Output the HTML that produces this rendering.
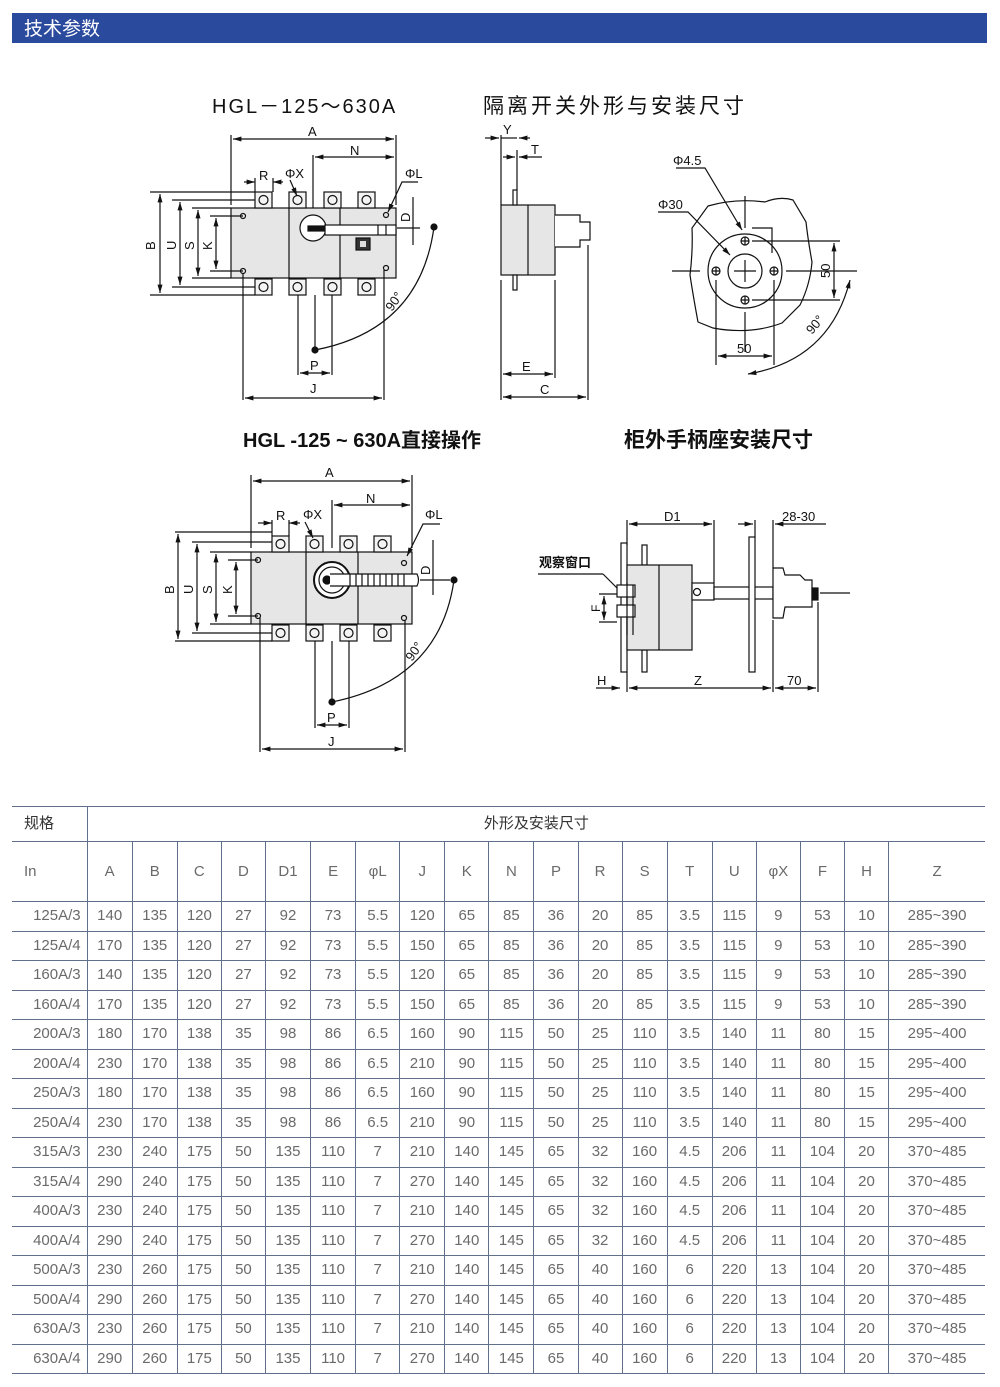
<!DOCTYPE html>
<html><head><meta charset="utf-8"><style>
body{margin:0;background:#fff;width:1000px;height:1387px;position:relative;overflow:hidden;font-family:"Liberation Sans","Noto Sans CJK SC",sans-serif}
.bar{position:absolute;left:12px;top:13px;width:975px;height:30px;background:#2a4a9e;color:#fff;font-size:19px;line-height:30px;box-sizing:border-box;padding-left:12px;font-family:"Noto Sans CJK SC",sans-serif}
table{position:absolute;left:12px;top:806px;border-collapse:collapse;table-layout:fixed;width:973px;color:#6a6a6a;font-size:15px}
td{border:1.5px solid #5f6f8c;text-align:center;padding:0;height:28.5px;line-height:28px}
td:first-child{border-left:none;text-align:right;padding-right:6px}
tr td:last-child{border-right:none}
tr.h1 td{height:34px}
tr.h2 td{height:59px}
tr.h1 td:first-child,tr.h2 td:first-child{text-align:left;padding-left:12px;padding-right:0}
svg{position:absolute;left:0;top:0}
svg text{font-family:"Liberation Sans","Noto Sans CJK SC",sans-serif;fill:#111}
</style></head><body>
<div class="bar">技术参数</div>
<svg width="1000" height="800" viewBox="0 0 1000 800" stroke="#111" fill="none" stroke-width="1.2">
<defs>
<marker id="ar" viewBox="0 0 10 10" refX="10" refY="5" markerWidth="7" markerHeight="7" orient="auto-start-reverse"><path d="M0,2 L10,5 L0,8z" fill="#111" stroke="none"/></marker>
<g id="term">
<rect x="0" y="0" width="17" height="16" fill="#f4f4f4"/><circle cx="8.5" cy="8" r="4.5"/>
</g>
</defs>
<text x="212" y="113" font-size="20" font-family="Liberation Serif" stroke="none" letter-spacing="2">HGL－125～630A</text>
<text x="483" y="113" font-size="21" stroke="none" font-family="Noto Serif CJK SC" letter-spacing="3">隔离开关外形与安装尺寸</text>
<text x="243" y="447" font-size="20" stroke="none" font-weight="bold">HGL -125 ~ 630A直接操作</text>
<text x="624" y="447" font-size="21" stroke="none" font-weight="bold">柜外手柄座安装尺寸</text>

<rect x="231" y="208" width="165" height="70" fill="#e6e6e6"/>
<line x1="289" y1="208" x2="289" y2="278"/><line x1="340" y1="208" x2="340" y2="278"/>
<use href="#term" x="255" y="192"/><use href="#term" x="289" y="192"/><use href="#term" x="324" y="192"/><use href="#term" x="358" y="192"/>
<use href="#term" x="255" y="279"/><use href="#term" x="289" y="279"/><use href="#term" x="324" y="279"/><use href="#term" x="358" y="279"/>
<circle cx="243" cy="216" r="2.5"/><circle cx="243" cy="271" r="2.5"/><circle cx="386" cy="215" r="2.5"/><circle cx="386" cy="268" r="2.5"/>
<circle cx="313" cy="228" r="13" fill="#fff"/><rect x="308" y="226" width="20" height="5" fill="#111"/>
<rect x="325" y="225" width="71" height="10" fill="#fff"/><line x1="378" y1="225" x2="378" y2="235"/><line x1="386" y1="225" x2="386" y2="235"/>
<rect x="356" y="238" width="14" height="12" fill="#333"/><rect x="360" y="241" width="6" height="6" fill="#ddd" stroke="none"/>
<line x1="231" y1="135" x2="231" y2="205"/><line x1="396" y1="135" x2="396" y2="205"/>
<line x1="233" y1="139" x2="394" y2="139" marker-start="url(#ar)" marker-end="url(#ar)"/>
<text x="308" y="136" font-size="13" stroke="none">A</text>
<line x1="313" y1="155" x2="313" y2="208"/>
<line x1="315" y1="157" x2="394" y2="157" marker-start="url(#ar)" marker-end="url(#ar)"/>
<text x="350" y="155" font-size="13" stroke="none">N</text>
<line x1="244" y1="182" x2="255" y2="182" marker-end="url(#ar)"/><line x1="283" y1="182" x2="273" y2="182" marker-end="url(#ar)"/>
<line x1="255" y1="178" x2="255" y2="192"/><line x1="273" y1="178" x2="273" y2="192"/>
<text x="259" y="180" font-size="13" stroke="none">R</text><text x="285" y="178" font-size="13" stroke="none">ΦX</text>
<line x1="290" y1="180" x2="297" y2="196" marker-end="url(#ar)"/>
<text x="405" y="178" font-size="13" stroke="none">ΦL</text><path d="M418,182 L402,182 L388,212" marker-end="url(#ar)"/>
<line x1="397" y1="228" x2="420" y2="228"/><line x1="413" y1="197" x2="413" y2="245"/>
<text x="410" y="222" font-size="13" stroke="none" transform="rotate(-90 410 222)">D</text>
<circle cx="434" cy="227" r="3" fill="#111"/><circle cx="315" cy="350" r="3" fill="#111"/>
<path d="M434,227 Q420,330 315,350"/>
<text x="392" y="312" font-size="13" stroke="none" transform="rotate(-55 392 312)">90°</text>
<line x1="315" y1="295" x2="315" y2="350"/>
<line x1="298" y1="295" x2="298" y2="375"/><line x1="332" y1="295" x2="332" y2="375"/>
<line x1="300" y1="373" x2="330" y2="373" marker-start="url(#ar)" marker-end="url(#ar)"/>
<text x="310" y="370" font-size="13" stroke="none">P</text>
<line x1="243" y1="273" x2="243" y2="400"/><line x1="384" y1="270" x2="384" y2="400"/>
<line x1="245" y1="398" x2="382" y2="398" marker-start="url(#ar)" marker-end="url(#ar)"/>
<text x="310" y="393" font-size="13" stroke="none">J</text>
<line x1="150" y1="192" x2="255" y2="192"/><line x1="150" y1="295" x2="255" y2="295"/>
<line x1="160" y1="194" x2="160" y2="293" marker-start="url(#ar)" marker-end="url(#ar)"/>
<line x1="172" y1="200" x2="255" y2="200"/><line x1="172" y1="287" x2="255" y2="287"/>
<line x1="180" y1="202" x2="180" y2="285" marker-start="url(#ar)" marker-end="url(#ar)"/>
<line x1="192" y1="208" x2="231" y2="208"/><line x1="192" y1="278" x2="231" y2="278"/>
<line x1="198" y1="210" x2="198" y2="276" marker-start="url(#ar)" marker-end="url(#ar)"/>
<line x1="210" y1="216" x2="243" y2="216"/><line x1="210" y1="271" x2="243" y2="271"/>
<line x1="216" y1="218" x2="216" y2="269" marker-start="url(#ar)" marker-end="url(#ar)"/>
<g font-size="13" stroke="none"><text x="155" y="250" transform="rotate(-90 155 250)">B</text><text x="176" y="250" transform="rotate(-90 176 250)">U</text><text x="194" y="250" transform="rotate(-90 194 250)">S</text><text x="212" y="250" transform="rotate(-90 212 250)">K</text></g>

<rect x="501" y="205" width="54" height="70" fill="#e6e6e6"/><line x1="528" y1="205" x2="528" y2="275"/>
<path d="M555,215 L580,215 L580,222 L590,222 L590,240 L580,240 L580,247 L555,247" fill="#fff"/>
<rect x="513" y="190" width="4" height="15" fill="#fff"/><rect x="513" y="275" width="4" height="15" fill="#fff"/>
<line x1="501" y1="135" x2="501" y2="205"/><line x1="517" y1="150" x2="517" y2="190"/>
<line x1="501" y1="138" x2="517" y2="138"/><line x1="485" y1="138" x2="499" y2="138" marker-end="url(#ar)"/><line x1="530" y1="138" x2="519" y2="138" marker-end="url(#ar)"/>
<text x="503" y="134" font-size="13" stroke="none">Y</text>
<line x1="503" y1="157" x2="515" y2="157" marker-end="url(#ar)"/><line x1="542" y1="157" x2="519" y2="157" marker-end="url(#ar)"/>
<text x="531" y="154" font-size="13" stroke="none">T</text>
<line x1="501" y1="280" x2="501" y2="400"/><line x1="555" y1="280" x2="555" y2="378"/><line x1="588" y1="245" x2="588" y2="400"/>
<line x1="503" y1="374" x2="553" y2="374" marker-start="url(#ar)" marker-end="url(#ar)"/>
<text x="522" y="371" font-size="13" stroke="none">E</text>
<line x1="503" y1="397" x2="586" y2="397" marker-start="url(#ar)" marker-end="url(#ar)"/>
<text x="540" y="394" font-size="13" stroke="none">C</text>

<path d="M708,206 Q735,198 765,202 Q780,196 793,200 L806,222 Q808,240 812,262 Q810,285 800,305 L782,323 Q750,335 713,328 L698,322 Q693,295 690,275 Q693,250 692,228 Z" fill="#fff"/>
<circle cx="745" cy="271" r="37"/><circle cx="745" cy="271" r="17"/>
<line x1="734" y1="271" x2="756" y2="271"/><line x1="745" y1="260" x2="745" y2="282"/>
<g><circle cx="745" cy="241" r="4"/><circle cx="745" cy="300" r="4"/><circle cx="716" cy="271" r="4"/><circle cx="774" cy="271" r="4"/>
<path d="M741,241h8M745,237v8M741,300h8M745,296v8M712,271h8M716,267v8M770,271h8M774,267v8"/></g>
<line x1="672" y1="271" x2="700" y2="271"/><line x1="786" y1="271" x2="857" y2="271"/>
<line x1="745" y1="196" x2="745" y2="228"/><line x1="745" y1="312" x2="745" y2="352"/>
<line x1="752" y1="241" x2="840" y2="241"/><line x1="752" y1="300" x2="840" y2="300"/>
<line x1="834" y1="243" x2="834" y2="298" marker-start="url(#ar)" marker-end="url(#ar)"/>
<text x="830" y="278" font-size="13" stroke="none" transform="rotate(-90 830 278)">50</text>
<path d="M752,228h20v25"/>
<line x1="716" y1="280" x2="716" y2="365"/><line x1="774" y1="280" x2="774" y2="365"/>
<line x1="718" y1="356" x2="772" y2="356" marker-start="url(#ar)" marker-end="url(#ar)"/>
<text x="737" y="353" font-size="13" stroke="none">50</text>
<path d="M850,280 Q830,360 748,374" marker-start="url(#ar)" marker-end="url(#ar)"/>
<text x="812" y="335" font-size="13" stroke="none" transform="rotate(-50 812 335)">90°</text>
<text x="673" y="165" font-size="13" stroke="none">Φ4.5</text><path d="M676,168 L705,168 L742,230" marker-end="url(#ar)"/>
<text x="658" y="209" font-size="13" stroke="none">Φ30</text><path d="M658,212 L688,212 L730,255" marker-end="url(#ar)"/>

<rect x="251" y="552" width="161" height="72" fill="#e6e6e6"/>
<line x1="306" y1="552" x2="306" y2="624"/><line x1="358" y1="552" x2="358" y2="624"/>
<use href="#term" x="272" y="536"/><use href="#term" x="306" y="536"/><use href="#term" x="340" y="536"/><use href="#term" x="374" y="536"/>
<use href="#term" x="272" y="625"/><use href="#term" x="306" y="625"/><use href="#term" x="340" y="625"/><use href="#term" x="374" y="625"/>
<circle cx="258" cy="560" r="2.5"/><circle cx="258" cy="616" r="2.5"/><circle cx="404" cy="563" r="2.5"/><circle cx="404" cy="618" r="2.5"/>
<circle cx="332" cy="580" r="18" fill="#fff" stroke-width="2"/><circle cx="332" cy="580" r="13" fill="#fff"/><circle cx="327" cy="580" r="4" fill="#111"/>
<path d="M330,574 L417,574 Q420,580 417,586 L330,586" fill="#fff"/>
<path d="M350,574v12M356,574v12M362,574v12M368,574v12M374,574v12M380,574v12M386,574v12M392,574v12M398,574v12M404,574v12"/>
<line x1="251" y1="475" x2="251" y2="548"/><line x1="412" y1="475" x2="412" y2="548"/>
<line x1="253" y1="481" x2="410" y2="481" marker-start="url(#ar)" marker-end="url(#ar)"/>
<text x="325" y="477" font-size="13" stroke="none">A</text>
<line x1="332" y1="500" x2="332" y2="548"/>
<line x1="334" y1="505" x2="410" y2="505" marker-start="url(#ar)" marker-end="url(#ar)"/>
<text x="366" y="503" font-size="13" stroke="none">N</text>
<line x1="258" y1="523" x2="272" y2="523" marker-end="url(#ar)"/><line x1="300" y1="523" x2="289" y2="523" marker-end="url(#ar)"/>
<line x1="272" y1="520" x2="272" y2="536"/><line x1="289" y1="520" x2="289" y2="536"/>
<text x="276" y="520" font-size="13" stroke="none">R</text><text x="303" y="519" font-size="13" stroke="none">ΦX</text>
<line x1="305" y1="522" x2="313" y2="538" marker-end="url(#ar)"/>
<text x="425" y="519" font-size="13" stroke="none">ΦL</text><path d="M440,524 L423,524 L407,556" marker-end="url(#ar)"/>
<line x1="420" y1="580" x2="450" y2="580"/><line x1="433" y1="540" x2="433" y2="595"/>
<text x="430" y="575" font-size="13" stroke="none" transform="rotate(-90 430 575)">D</text>
<circle cx="454" cy="580" r="3" fill="#111"/><circle cx="332" cy="702" r="3" fill="#111"/>
<path d="M454,580 Q440,680 332,702"/>
<text x="412" y="662" font-size="13" stroke="none" transform="rotate(-55 412 662)">90°</text>
<line x1="332" y1="641" x2="332" y2="702"/>
<line x1="315" y1="641" x2="315" y2="728"/><line x1="349" y1="641" x2="349" y2="728"/>
<line x1="317" y1="725" x2="347" y2="725" marker-start="url(#ar)" marker-end="url(#ar)"/>
<text x="327" y="722" font-size="13" stroke="none">P</text>
<line x1="260" y1="618" x2="260" y2="752"/><line x1="405" y1="620" x2="405" y2="752"/>
<line x1="262" y1="749" x2="403" y2="749" marker-start="url(#ar)" marker-end="url(#ar)"/>
<text x="328" y="746" font-size="13" stroke="none">J</text>
<line x1="175" y1="532" x2="272" y2="532"/><line x1="175" y1="641" x2="272" y2="641"/>
<line x1="178" y1="534" x2="178" y2="639" marker-start="url(#ar)" marker-end="url(#ar)"/>
<line x1="192" y1="542" x2="272" y2="542"/><line x1="192" y1="633" x2="272" y2="633"/>
<line x1="197" y1="544" x2="197" y2="631" marker-start="url(#ar)" marker-end="url(#ar)"/>
<line x1="210" y1="552" x2="251" y2="552"/><line x1="210" y1="624" x2="251" y2="624"/>
<line x1="216" y1="554" x2="216" y2="622" marker-start="url(#ar)" marker-end="url(#ar)"/>
<line x1="228" y1="560" x2="258" y2="560"/><line x1="228" y1="616" x2="258" y2="616"/>
<line x1="236" y1="562" x2="236" y2="614" marker-start="url(#ar)" marker-end="url(#ar)"/>
<g font-size="13" stroke="none"><text x="174" y="594" transform="rotate(-90 174 594)">B</text><text x="193" y="594" transform="rotate(-90 193 594)">U</text><text x="212" y="594" transform="rotate(-90 212 594)">S</text><text x="232" y="594" transform="rotate(-90 232 594)">K</text></g>

<rect x="621" y="543" width="6" height="129" fill="#fff"/>
<rect x="642" y="545" width="5" height="20" fill="#fff"/><rect x="642" y="650" width="5" height="22" fill="#fff"/>
<rect x="627" y="565" width="65" height="85" fill="#e6e6e6"/><line x1="659" y1="565" x2="659" y2="650"/>
<rect x="617" y="585" width="18" height="12" fill="#fff"/><rect x="617" y="605" width="18" height="12" fill="#fff"/>
<line x1="627" y1="583" x2="627" y2="635"/><line x1="633" y1="585" x2="633" y2="635"/>
<rect x="692" y="583" width="22" height="17" fill="#fff"/><circle cx="697" cy="592" r="3.5"/>
<rect x="714" y="587" width="59" height="12" fill="#fff"/>
<rect x="749" y="537" width="6" height="135" fill="#fff"/>
<path d="M773,568 L783,568 L785,575 L800,575 L805,580 L812,580 L812,607 L785,607 L783,618 L773,618 Z" fill="#fff"/>
<rect x="812" y="588" width="6" height="12" fill="#111"/>
<line x1="820" y1="593" x2="850" y2="593"/>
<line x1="538" y1="574" x2="603" y2="574"/><line x1="603" y1="574" x2="617" y2="588"/>
<text x="539" y="567" font-size="13" stroke="none" font-weight="bold">观察窗口</text>
<line x1="599" y1="594" x2="617" y2="594"/><line x1="599" y1="622" x2="617" y2="622"/>
<line x1="604" y1="596" x2="604" y2="620" marker-start="url(#ar)" marker-end="url(#ar)"/>
<text x="600" y="612" font-size="12" stroke="none" transform="rotate(-90 600 612)">F</text>
<line x1="627" y1="520" x2="627" y2="545"/><line x1="714" y1="520" x2="714" y2="583"/>
<line x1="629" y1="524" x2="712" y2="524" marker-start="url(#ar)" marker-end="url(#ar)"/>
<text x="664" y="521" font-size="13" stroke="none">D1</text>
<line x1="755" y1="520" x2="755" y2="537"/><line x1="773" y1="520" x2="773" y2="568"/>
<line x1="738" y1="524" x2="753" y2="524" marker-end="url(#ar)"/><line x1="826" y1="524" x2="775" y2="524" marker-end="url(#ar)"/>
<text x="782" y="521" font-size="13" stroke="none">28-30</text>
<line x1="627" y1="672" x2="627" y2="692"/><line x1="773" y1="620" x2="773" y2="692"/><line x1="818" y1="602" x2="818" y2="692"/>
<line x1="596" y1="688" x2="620" y2="688" marker-end="url(#ar)"/>
<line x1="629" y1="688" x2="771" y2="688" marker-start="url(#ar)" marker-end="url(#ar)"/>
<text x="694" y="685" font-size="13" stroke="none">Z</text>
<text x="597" y="685" font-size="13" stroke="none">H</text>
<line x1="775" y1="688" x2="816" y2="688" marker-start="url(#ar)" marker-end="url(#ar)"/>
<text x="787" y="685" font-size="13" stroke="none">70</text>
</svg>

<table>
<colgroup><col style="width:75px"><col style="width:45px"><col style="width:45px"><col style="width:44px"><col style="width:44px"><col style="width:45px"><col style="width:45px"><col style="width:44px"><col style="width:45px"><col style="width:44px"><col style="width:45px"><col style="width:44px"><col style="width:44px"><col style="width:45px"><col style="width:45px"><col style="width:44px"><col style="width:44px"><col style="width:44px"><col style="width:44px"><col style="width:96px"></colgroup>
<tr class="h1"><td style="color:#333">规格</td><td colspan="19" style="color:#333">外形及安装尺寸</td></tr>
<tr class="h2"><td>In</td><td>A</td><td>B</td><td>C</td><td>D</td><td>D1</td><td>E</td><td>φL</td><td>J</td><td>K</td><td>N</td><td>P</td><td>R</td><td>S</td><td>T</td><td>U</td><td>φX</td><td>F</td><td>H</td><td>Z</td></tr>
<tr><td>125A/3</td><td>140</td><td>135</td><td>120</td><td>27</td><td>92</td><td>73</td><td>5.5</td><td>120</td><td>65</td><td>85</td><td>36</td><td>20</td><td>85</td><td>3.5</td><td>115</td><td>9</td><td>53</td><td>10</td><td>285~390</td></tr>
<tr><td>125A/4</td><td>170</td><td>135</td><td>120</td><td>27</td><td>92</td><td>73</td><td>5.5</td><td>150</td><td>65</td><td>85</td><td>36</td><td>20</td><td>85</td><td>3.5</td><td>115</td><td>9</td><td>53</td><td>10</td><td>285~390</td></tr>
<tr><td>160A/3</td><td>140</td><td>135</td><td>120</td><td>27</td><td>92</td><td>73</td><td>5.5</td><td>120</td><td>65</td><td>85</td><td>36</td><td>20</td><td>85</td><td>3.5</td><td>115</td><td>9</td><td>53</td><td>10</td><td>285~390</td></tr>
<tr><td>160A/4</td><td>170</td><td>135</td><td>120</td><td>27</td><td>92</td><td>73</td><td>5.5</td><td>150</td><td>65</td><td>85</td><td>36</td><td>20</td><td>85</td><td>3.5</td><td>115</td><td>9</td><td>53</td><td>10</td><td>285~390</td></tr>
<tr><td>200A/3</td><td>180</td><td>170</td><td>138</td><td>35</td><td>98</td><td>86</td><td>6.5</td><td>160</td><td>90</td><td>115</td><td>50</td><td>25</td><td>110</td><td>3.5</td><td>140</td><td>11</td><td>80</td><td>15</td><td>295~400</td></tr>
<tr><td>200A/4</td><td>230</td><td>170</td><td>138</td><td>35</td><td>98</td><td>86</td><td>6.5</td><td>210</td><td>90</td><td>115</td><td>50</td><td>25</td><td>110</td><td>3.5</td><td>140</td><td>11</td><td>80</td><td>15</td><td>295~400</td></tr>
<tr><td>250A/3</td><td>180</td><td>170</td><td>138</td><td>35</td><td>98</td><td>86</td><td>6.5</td><td>160</td><td>90</td><td>115</td><td>50</td><td>25</td><td>110</td><td>3.5</td><td>140</td><td>11</td><td>80</td><td>15</td><td>295~400</td></tr>
<tr><td>250A/4</td><td>230</td><td>170</td><td>138</td><td>35</td><td>98</td><td>86</td><td>6.5</td><td>210</td><td>90</td><td>115</td><td>50</td><td>25</td><td>110</td><td>3.5</td><td>140</td><td>11</td><td>80</td><td>15</td><td>295~400</td></tr>
<tr><td>315A/3</td><td>230</td><td>240</td><td>175</td><td>50</td><td>135</td><td>110</td><td>7</td><td>210</td><td>140</td><td>145</td><td>65</td><td>32</td><td>160</td><td>4.5</td><td>206</td><td>11</td><td>104</td><td>20</td><td>370~485</td></tr>
<tr><td>315A/4</td><td>290</td><td>240</td><td>175</td><td>50</td><td>135</td><td>110</td><td>7</td><td>270</td><td>140</td><td>145</td><td>65</td><td>32</td><td>160</td><td>4.5</td><td>206</td><td>11</td><td>104</td><td>20</td><td>370~485</td></tr>
<tr><td>400A/3</td><td>230</td><td>240</td><td>175</td><td>50</td><td>135</td><td>110</td><td>7</td><td>210</td><td>140</td><td>145</td><td>65</td><td>32</td><td>160</td><td>4.5</td><td>206</td><td>11</td><td>104</td><td>20</td><td>370~485</td></tr>
<tr><td>400A/4</td><td>290</td><td>240</td><td>175</td><td>50</td><td>135</td><td>110</td><td>7</td><td>270</td><td>140</td><td>145</td><td>65</td><td>32</td><td>160</td><td>4.5</td><td>206</td><td>11</td><td>104</td><td>20</td><td>370~485</td></tr>
<tr><td>500A/3</td><td>230</td><td>260</td><td>175</td><td>50</td><td>135</td><td>110</td><td>7</td><td>210</td><td>140</td><td>145</td><td>65</td><td>40</td><td>160</td><td>6</td><td>220</td><td>13</td><td>104</td><td>20</td><td>370~485</td></tr>
<tr><td>500A/4</td><td>290</td><td>260</td><td>175</td><td>50</td><td>135</td><td>110</td><td>7</td><td>270</td><td>140</td><td>145</td><td>65</td><td>40</td><td>160</td><td>6</td><td>220</td><td>13</td><td>104</td><td>20</td><td>370~485</td></tr>
<tr><td>630A/3</td><td>230</td><td>260</td><td>175</td><td>50</td><td>135</td><td>110</td><td>7</td><td>210</td><td>140</td><td>145</td><td>65</td><td>40</td><td>160</td><td>6</td><td>220</td><td>13</td><td>104</td><td>20</td><td>370~485</td></tr>
<tr><td>630A/4</td><td>290</td><td>260</td><td>175</td><td>50</td><td>135</td><td>110</td><td>7</td><td>270</td><td>140</td><td>145</td><td>65</td><td>40</td><td>160</td><td>6</td><td>220</td><td>13</td><td>104</td><td>20</td><td>370~485</td></tr>
</table>
</body></html>
